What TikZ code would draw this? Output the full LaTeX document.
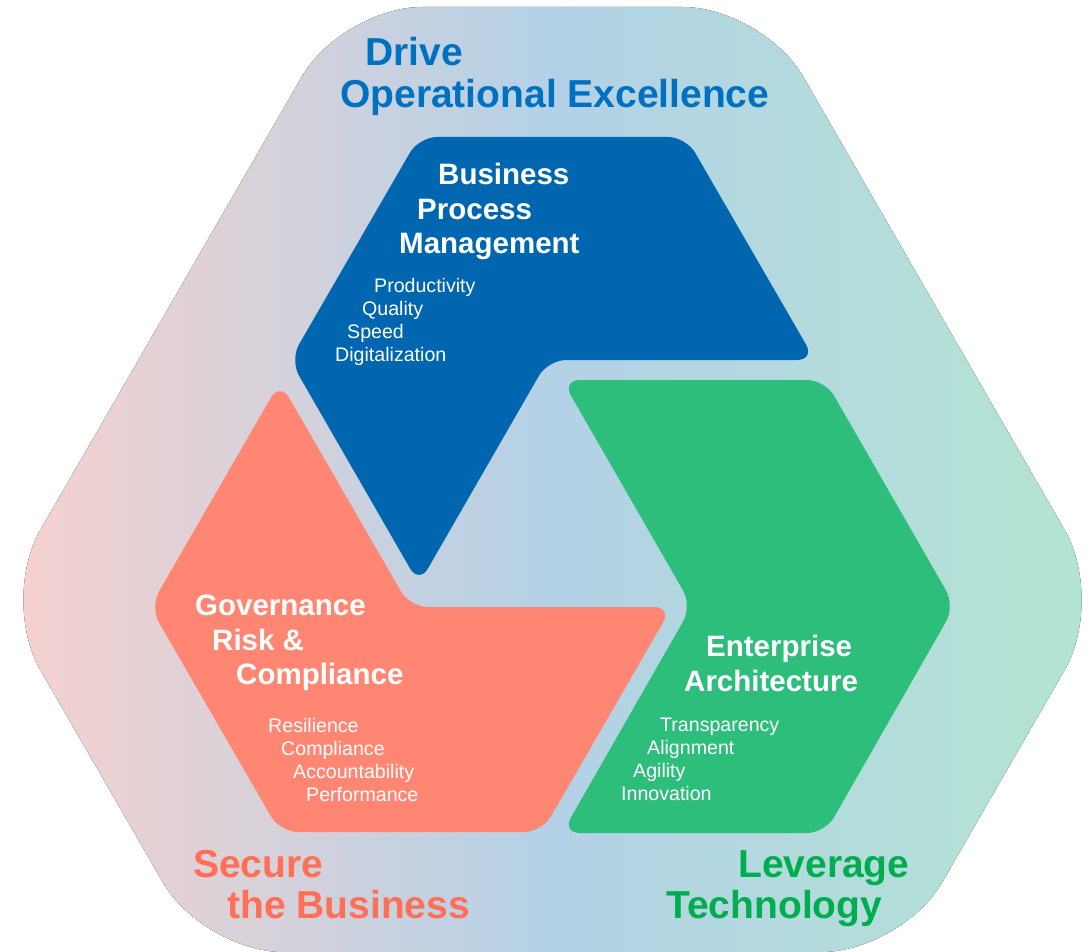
\documentclass[tikz,border=0pt]{standalone}
\usepackage{fontspec}
\setmainfont{Liberation Sans}
\definecolor{bpmblue}{HTML}{0066B0}
\definecolor{eagreen}{HTML}{2EBE7B}
\definecolor{grcsalmon}{HTML}{FF8673}
\definecolor{bgL}{HTML}{F8D1CF}
\definecolor{bgM}{HTML}{B3D1E6}
\definecolor{bgR}{HTML}{B3E5D2}
\definecolor{drivecol}{HTML}{0070C0}
\definecolor{securecol}{HTML}{FF6F55}
\definecolor{levercol}{HTML}{00AD4F}
\begin{document}
\begin{tikzpicture}[x=1pt,y=-1pt,
  bgshape/.style={left color=bgL, right color=bgR, middle color=bgM, rounded corners=80pt},
  piece/.style={rounded corners=18pt},
  biglabel/.style={anchor=north west, inner sep=0pt, align=left, font=\fontsize{39}{41}\selectfont\bfseries},
  title/.style={anchor=north west, inner sep=0pt, align=left, text=white, font=\fontsize{29.5}{34.5}\selectfont\bfseries},
  item/.style={anchor=north west, inner sep=0pt, align=left, text=white, font=\fontsize{19.6}{23}\selectfont}]
\useasboundingbox (0,0) rectangle (1092,952);
% background rounded hexagon
\fill[bgshape] (342,7) -- (763,7) -- (1105,600) -- (902,952) -- (203,952) -- (0,600) -- cycle;
% Business Process Management piece
\fill[piece, bpmblue] (419,137) -- (686,137) -- (815,360) -- (548,360) -- (419,584) -- (290,360) -- cycle;
% Enterprise Architecture piece
\fill[piece, eagreen] (562,380) -- (825,380) -- (955,606) -- (825,833) -- (562,833) -- (692,606) -- cycle;
% Governance Risk & Compliance piece
\fill[piece, grcsalmon] (280,382) -- (410,607) -- (672,607) -- (542,832) -- (280,832) -- (150,607) -- cycle;
% outer labels
\node[biglabel, text=drivecol] (drive) at (340,37) {\hspace*{25pt}Drive\\[1pt]Operational Excellence};
\node[biglabel, text=securecol] (secure) at (193,850) {Secure\\\hspace*{34pt}the Business};
\node[biglabel, text=levercol] (leverage) at (666,850) {\hspace*{72pt}Leverage\\Technology};
% titles
\node[title] (bpm) at (399,163) {\hspace*{39pt}Business\\\hspace*{18pt}Process\\Management};
\node[title] (grc) at (195,595) {Governance\\\hspace*{17pt}Risk \&\\\hspace*{41pt}Compliance};
\node[title] (ea) at (684,635) {\hspace*{22pt}Enterprise\\Architecture};
% items
\node[item] (bpmitems) at (335,278) {\hspace*{39pt}Productivity\\\hspace*{27pt}Quality\\\hspace*{12pt}Speed\\Digitalization};
\node[item] (grcitems) at (268,718) {Resilience\\\hspace*{13pt}Compliance\\\hspace*{25pt}Accountability\\\hspace*{38pt}Performance};
\node[item] (eaitems) at (621,718) {\hspace*{39pt}Transparency\\\hspace*{26pt}Alignment\\\hspace*{12pt}Agility\\Innovation};
\end{tikzpicture}
\end{document}
